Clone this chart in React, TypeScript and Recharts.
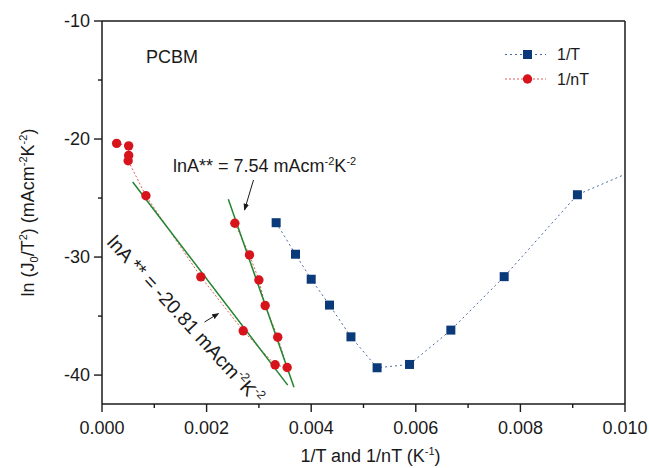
import { ComposedChart, Line, XAxis, YAxis, ReferenceLine } from "recharts";

// 1/T series (x in K^-1, y = ln(J0/T^2))
const blueX = [0.00333, 0.0037, 0.004, 0.00435, 0.00476, 0.00526, 0.00588, 0.00667, 0.00769, 0.00909, 0.0111];
const blueY = [-27.09, -29.76, -31.88, -34.07, -36.76, -39.38, -39.1, -36.19, -31.66, -24.72, -20.9];

// 1/nT series
const redX = [0.00254, 0.00282, 0.003, 0.00312, 0.00336, 0.00354, 0.00331, 0.0027, 0.00189, 0.00084, 0.0005, 0.00051, 0.00051, 0.00028];
const redY = [-27.14, -29.82, -31.94, -34.11, -36.79, -39.36, -39.13, -36.25, -31.68, -24.81, -21.84, -21.39, -20.58, -20.37];

// linear fits (green)
const fitLowX = [0.000587, 0.003551];
const fitLowY = [-23.64, -40.85];
const fitHighX = [0.002415, 0.003671];
const fitHighY = [-25.11, -41.04];

const xTicks = [0, 0.001, 0.002, 0.003, 0.004, 0.005, 0.006, 0.007, 0.008, 0.009, 0.01];
const yTicks = [-40, -35, -30, -25, -20, -15, -10];

const toPoints = (xs: number[], ys: number[]) => xs.map((x, i) => ({ x, y: ys[i] }));

const blueData = toPoints(blueX, blueY);
const redData = toPoints(redX, redY);
const fitLow = toPoints(fitLowX, fitLowY);
const fitHigh = toPoints(fitHighX, fitHighY);

const FONT = "'Liberation Sans', Arial, sans-serif";
const INK = "#1a1a1a";
const BLUE = "#0b3a7a";
const RED = "#d7141c";
const GREEN = "#23852f";

const XTick = ({ x, y, payload }: any) => {
  const v = payload.value;
  const major = Math.round(v * 1000) % 2 === 0;
  return (
    <g>
      <line x1={x} y1={y} x2={x} y2={y + (major ? 8 : 4)} stroke={INK} strokeWidth={1.4} />
      {major && (
        <text x={x} y={y + 30} textAnchor="middle" fontSize={18} fill={INK} fontFamily={FONT}>
          {v.toFixed(3)}
        </text>
      )}
    </g>
  );
};

const YTick = ({ x, y, payload }: any) => {
  const v = payload.value;
  const major = v % 10 === 0;
  return (
    <g>
      <line x1={x} y1={y} x2={x - (major ? 8 : 4)} y2={y} stroke={INK} strokeWidth={1.4} />
      {major && (
        <text x={x - 12} y={y} dy="0.35em" textAnchor="end" fontSize={18} fill={INK} fontFamily={FONT}>
          {v}
        </text>
      )}
    </g>
  );
};

const XTitle = ({ viewBox }: any) => (
  <text x={viewBox.x + viewBox.width / 2 + 7} y={viewBox.y + 58} textAnchor="middle" fontSize={18} fill={INK} fontFamily={FONT}>
    1/T and 1/nT (K<tspan dy={-7} fontSize={11}>-1</tspan><tspan dy={7}>)</tspan>
  </text>
);

const YTitle = ({ viewBox }: any) => {
  const cx = 34;
  const cy = viewBox.y + viewBox.height / 2;
  return (
    <text x={cx} y={cy} transform={`rotate(-90, ${cx}, ${cy})`} textAnchor="middle" fontSize={18} fill={INK} fontFamily={FONT}>
      ln (J<tspan dy={4} fontSize={11}>0</tspan>
      <tspan dy={-4}>/T</tspan>
      <tspan dy={-7} fontSize={11}>2</tspan>
      <tspan dy={7}>) (mAcm</tspan>
      <tspan dy={-7} fontSize={11}>-2</tspan>
      <tspan dy={7}>K</tspan>
      <tspan dy={-7} fontSize={11}>-2</tspan>
      <tspan dy={7}>)</tspan>
    </text>
  );
};

const Square = (p: any) => {
  if (p.cx == null || p.cy == null || isNaN(p.cx)) return <g key={p.index} />;
  return <rect key={p.index} x={p.cx - 4.5} y={p.cy - 4.5} width={9} height={9} fill={BLUE} />;
};

const Circle = (p: any) => {
  if (p.cx == null || p.cy == null || isNaN(p.cx)) return <g key={p.index} />;
  return <circle key={p.index} cx={p.cx} cy={p.cy} r={4.7} fill={RED} />;
};

export default function App() {
  return (
    <div style={{ position: "absolute", left: 0, top: 0, width: 649, height: 468, background: "#fff", fontFamily: FONT }}>
      <ComposedChart width={649} height={468} margin={{ top: 21, right: 24, left: 0, bottom: 0 }}>
        <XAxis
          type="number"
          dataKey="x"
          domain={[0, 0.01]}
          ticks={xTicks}
          interval={0}
          allowDataOverflow
          height={64}
          tickSize={0}
          tickMargin={0}
          tick={<XTick />}
          stroke={INK}
          strokeWidth={1.5}
          label={<XTitle />}
        />
        <YAxis
          type="number"
          dataKey="y"
          domain={[-42.45, -10]}
          ticks={yTicks}
          interval={0}
          allowDataOverflow
          width={102}
          tickSize={0}
          tickMargin={0}
          tick={<YTick />}
          stroke={INK}
          strokeWidth={1.5}
          label={<YTitle />}
        />
        <ReferenceLine y={-10} stroke={INK} strokeWidth={1.5} />
        <ReferenceLine x={0.01} stroke={INK} strokeWidth={1.5} />
        <Line
          data={blueData}
          dataKey="y"
          type="linear"
          stroke="#4a6a9e"
          strokeWidth={1}
          strokeDasharray="2 3"
          dot={Square}
          activeDot={false}
          isAnimationActive={false}
        />
        <Line
          data={redData}
          dataKey="y"
          type="linear"
          stroke="#e25a5f"
          strokeWidth={1}
          strokeDasharray="2 2"
          dot={Circle}
          activeDot={false}
          isAnimationActive={false}
        />
        <Line data={fitLow} dataKey="y" type="linear" stroke={GREEN} strokeWidth={1.5} dot={false} activeDot={false} isAnimationActive={false} />
        <Line data={fitHigh} dataKey="y" type="linear" stroke={GREEN} strokeWidth={1.5} dot={false} activeDot={false} isAnimationActive={false} />
      </ComposedChart>

      <svg width={649} height={468} style={{ position: "absolute", left: 0, top: 0, pointerEvents: "none" }} fontFamily={FONT}>
        <defs>
          <marker id="arr" viewBox="0 0 10 10" refX="9" refY="5" markerWidth="7" markerHeight="7" orient="auto-start-reverse">
            <path d="M0,1 L10,5 L0,9 Z" fill={INK} />
          </marker>
        </defs>
        <text x={146} y={62.5} fontSize={18} fill={INK}>PCBM</text>

        {/* legend */}
        <line x1={505} y1={54.5} x2={546} y2={54.5} stroke="#4a6a9e" strokeWidth={1} strokeDasharray="2 3" />
        <rect x={523} y={50} width={9} height={9} fill={BLUE} />
        <text x={557} y={60} fontSize={16} fill={INK}>1/T</text>
        <line x1={505} y1={79} x2={546} y2={79} stroke="#e25a5f" strokeWidth={1} strokeDasharray="2 2" />
        <circle cx={527.5} cy={79} r={4.7} fill={RED} />
        <text x={557} y={85} fontSize={16} fill={INK}>1/nT</text>

        {/* annotations */}
        <text x={173} y={172} fontSize={18} fill={INK}>
          lnA** = 7.54 mAcm<tspan dy={-7} fontSize={11}>-2</tspan>
          <tspan dy={7}>K</tspan>
          <tspan dy={-7} fontSize={11}>-2</tspan>
        </text>
        <line x1={253.5} y1={180} x2={244.5} y2={210} stroke={INK} strokeWidth={1} markerEnd="url(#arr)" />

        <text x={106} y={243} transform="rotate(47.5, 106, 243)" fontSize={19.5} fill={INK}>
          lnA ** = -20.81 mAcm<tspan dy={-8} fontSize={12}>-2</tspan>
          <tspan dy={8}>K</tspan>
          <tspan dy={-8} fontSize={12}>-2</tspan>
        </text>
        <line x1={204.5} y1={322} x2={218.5} y2={313.5} stroke={INK} strokeWidth={1} markerEnd="url(#arr)" />
      </svg>
    </div>
  );
}
